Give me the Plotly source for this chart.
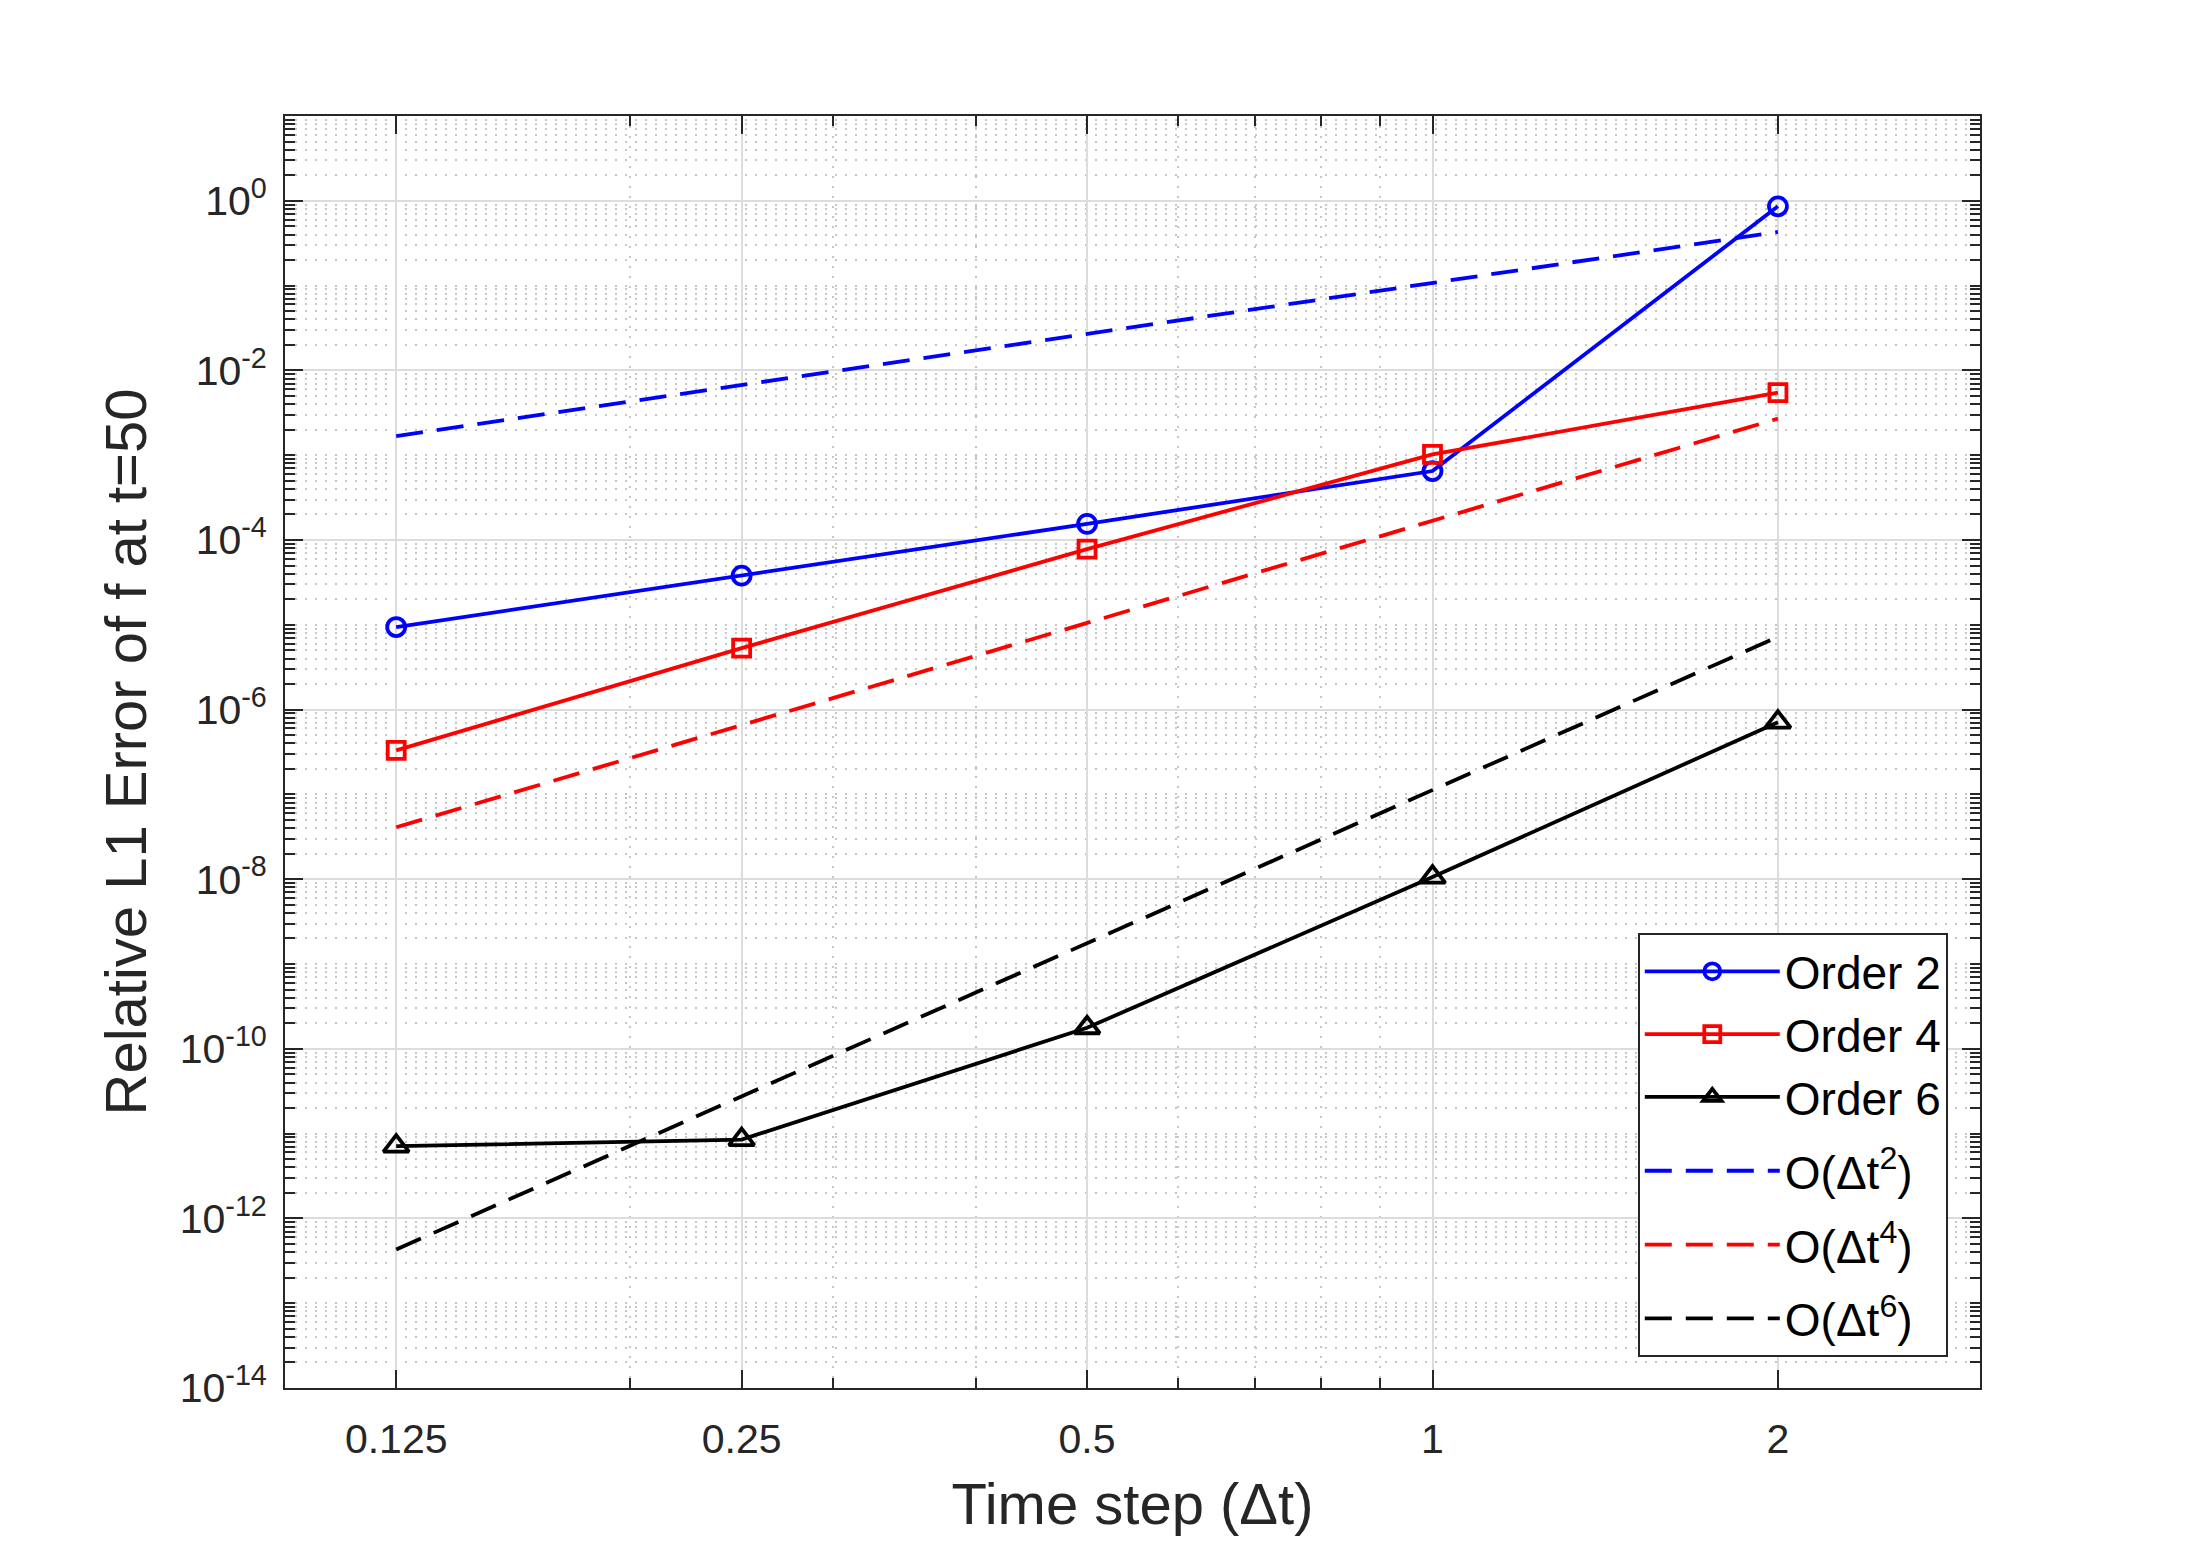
import plotly.graph_objects as go

# ---- data ----
dt = [0.125, 0.25, 0.5, 1, 2]
dt_labels = ["0.125", "0.25", "0.5", "1", "2"]

err_order2 = [9.4e-6, 3.8e-5, 1.55e-4, 6.5e-4, 0.86]
err_order4 = [3.3e-7, 5.3e-6, 7.8e-5, 1.02e-3, 5.47e-3]
err_order6 = [7.1e-12, 8.5e-12, 1.77e-10, 1.06e-8, 7.1e-7]

ref_order2 = [1.68e-3, 6.7e-3, 2.69e-2, 1.075e-1, 0.43]
ref_order4 = [4.1e-8, 6.6e-7, 1.05e-5, 1.69e-4, 2.7e-3]
ref_order6 = [4.3e-13, 2.75e-11, 1.76e-9, 1.13e-7, 7.2e-6]

y_major_exp = [-14, -12, -10, -8, -6, -4, -2, 0]
x_minor_vals = [0.2, 0.3, 0.4, 0.6, 0.7, 0.8, 0.9, 3]

FONT = "Liberation Sans, Arial, Helvetica, sans-serif"
AX = "#262626"
DASH = "27px,14px"
LW = 3.8

fig = go.Figure()

fig.add_trace(go.Scatter(
    x=dt, y=err_order2, name="Order 2", mode="lines+markers", legendgroup="g0",
    line=dict(color="#0000ff", width=LW),
    marker=dict(symbol="circle-open", size=18, color="#0000ff", line=dict(width=3.8))))
fig.add_trace(go.Scatter(
    x=dt, y=err_order4, name="Order 4", mode="lines+markers", legendgroup="g0",
    line=dict(color="#ff0000", width=LW),
    marker=dict(symbol="square-open", size=17, color="#ff0000", line=dict(width=3.8))))
fig.add_trace(go.Scatter(
    x=dt, y=err_order6, name="Order 6", mode="lines+markers", legendgroup="g0",
    line=dict(color="#000000", width=LW),
    marker=dict(symbol="triangle-up-open", size=22, color="#000000", line=dict(width=3.8))))
fig.add_trace(go.Scatter(
    x=dt, y=ref_order2, name="O(\u0394t<sup>2</sup>)", mode="lines", legendgroup="g1",
    line=dict(color="#0000ff", width=LW, dash=DASH)))
fig.add_trace(go.Scatter(
    x=dt, y=ref_order4, name="O(\u0394t<sup>4</sup>)", mode="lines", legendgroup="g2",
    line=dict(color="#ff0000", width=LW, dash=DASH)))
fig.add_trace(go.Scatter(
    x=dt, y=ref_order6, name="O(\u0394t<sup>6</sup>)", mode="lines", legendgroup="g3",
    line=dict(color="#000000", width=LW, dash=DASH)))

y_major_vals = [10.0 ** e for e in y_major_exp]
y_major_text = ["10<sup>%d</sup>" % e for e in y_major_exp]
y_minor_vals = []
for e in range(-14, 1):
    for k in range(1, 10):
        v = k * 10.0 ** e
        if k == 1 and e in y_major_exp:
            continue
        y_minor_vals.append(v)

common_axis = dict(
    showline=True, linecolor=AX, linewidth=2, mirror="ticks",
    ticks="inside", ticklen=18, tickwidth=2, tickcolor=AX,
    showgrid=True, gridcolor="#dcdcdc", gridwidth=2,
    zeroline=False,
    tickfont=dict(family=FONT, size=41, color=AX),
)

minor_common = dict(ticks="inside", ticklen=10, tickwidth=2, tickcolor=AX,
                    showgrid=True, gridcolor="#c6c6c6", gridwidth=2, griddash="2px,8px")

fig.update_layout(
    width=2188, height=1562,
    margin=dict(l=285, r=208, t=116, b=174, autoexpand=False),
    paper_bgcolor="white", plot_bgcolor="white",
    font=dict(family=FONT, color=AX),
    showlegend=True,
    legend=dict(
        x=0.981, y=0.0244, xanchor="right", yanchor="bottom",
        bgcolor="white", bordercolor=AX, borderwidth=2,
        font=dict(family=FONT, size=46, color="#000000"),
        itemwidth=135, tracegroupgap=11, groupclick="toggleitem",
    ),
    xaxis=dict(
        type="log", range=[-1, 0.47712],
        tickvals=dt, ticktext=dt_labels,
        title=dict(text="Time step (\u0394t)", font=dict(family=FONT, size=58, color=AX), standoff=22),
        ticklabelstandoff=14,
        minor=dict(tickvals=x_minor_vals, **minor_common),
        automargin=False,
        **common_axis,
    ),
    yaxis=dict(
        type="log", range=[-14, 1],
        tickvals=y_major_vals, ticktext=y_major_text,
        title=dict(text="Relative L1 Error of f at t=50", font=dict(family=FONT, size=58, color=AX), standoff=14),
        ticklabelstandoff=8,
        minor=dict(tickvals=y_minor_vals, **minor_common),
        automargin=False,
        **common_axis,
    ),
)

fig.write_html("out.html")
